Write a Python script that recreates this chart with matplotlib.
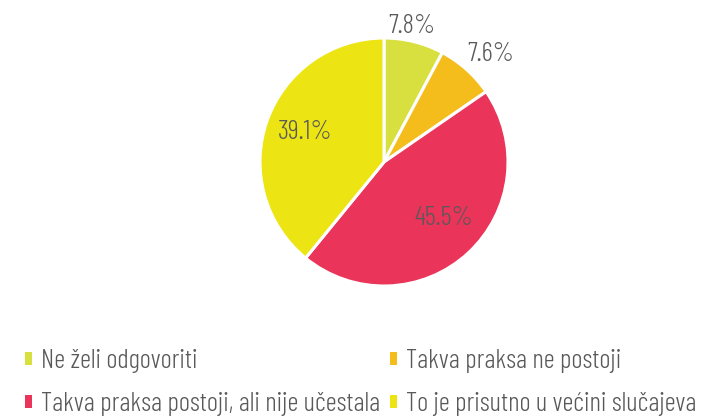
import matplotlib
matplotlib.use("Agg")
import matplotlib.pyplot as plt
from matplotlib import font_manager as fm
import numpy as np

categories = ["Ne želi odgovoriti", "Takva praksa ne postoji",
              "Takva praksa postoji, ali nije učestala", "To je prisutno u većini slučajeva"]
values = [7.8, 7.6, 45.5, 39.1]
colors = ["#d8e03f", "#f5bd1b", "#ea3459", "#ece513"]


def pick_font():
    prefs = [("Barlow Condensed", 300), ("Barlow Semi Condensed", 300),
             ("Roboto Condensed", 300), ("DejaVu Sans", 400)]
    for name, wt in prefs:
        cands = [f for f in fm.fontManager.ttflist
                 if f.name == name and 'italic' not in f.fname.lower() and f.style == 'normal']
        if cands:
            best = min(cands, key=lambda f: abs(int(f.weight) - wt) if str(f.weight).isdigit() else 999)
            return best.fname
    return None


fname = pick_font()
fp_lab = fm.FontProperties(fname=fname, size=19.5) if fname else fm.FontProperties(size=15)
fp_leg = fm.FontProperties(fname=fname, size=19.5) if fname else fm.FontProperties(size=14)

fig = plt.figure(figsize=(7.03, 4.19), dpi=100)
ax = fig.add_axes([(384 - 124) / 703, (419 - 286) / 419, 248 / 703, 248 / 419])
wedges, _ = ax.pie(values, colors=colors, startangle=90, counterclock=False,
                   radius=1.0, wedgeprops=dict(edgecolor="white", linewidth=2.2))
ax.set_xlim(-1, 1)
ax.set_ylim(-1, 1)
ax.set_aspect("equal")
ax.axis("off")

label_dist = [1.14, 1.24, 0.645, 0.685]
label_shift = [2.7, -2.2, 5.5, -2.8]
for w, v, d, s in zip(wedges, values, label_dist, label_shift):
    ang = np.deg2rad((w.theta1 + w.theta2) / 2 + s)
    ax.text(d * np.cos(ang), d * np.sin(ang), f"{v}%", ha="center", va="center_baseline",
            fontproperties=fp_lab, color="#595959", clip_on=False)

order = [0, 2, 1, 3]
leg = fig.legend([wedges[i] for i in order], [categories[i] for i in order],
                 loc="lower left", bbox_to_anchor=(22 / 703, 0.0), ncol=2, frameon=False,
                 prop=fp_leg, labelcolor="#595959", handlelength=0.26, handleheight=0.37,
                 handletextpad=0.33, columnspacing=0.37, labelspacing=0.72, borderaxespad=0.0,
                 borderpad=0.1)
for h in leg.legend_handles:
    h.set_edgecolor("none")

fig.savefig("out.png", dpi=100)
